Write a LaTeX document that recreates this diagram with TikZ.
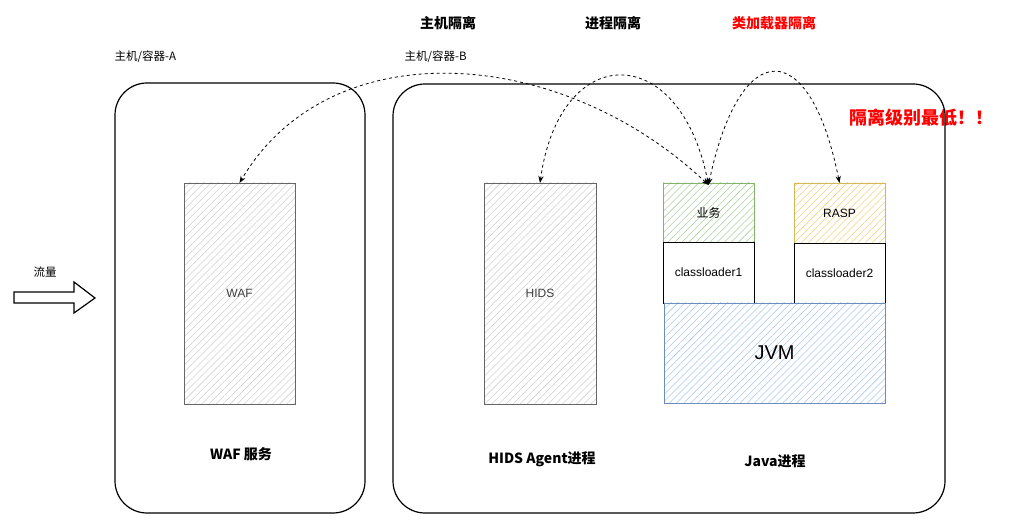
\documentclass[tikz,border=0pt]{standalone}
\usepackage{fontspec}
\setmainfont{Liberation Sans}
\newfontfamily\cjk{Noto Sans CJK SC}
\usetikzlibrary{arrows.meta,positioning,patterns.meta}
\definecolor{bizline}{HTML}{82B366}
\definecolor{bizfill}{HTML}{A9D09E}
\definecolor{rasline}{HTML}{D6B656}
\definecolor{rasfill}{HTML}{F2D27A}
\definecolor{jvmline}{HTML}{6C8EBF}
\definecolor{jvmfill}{HTML}{A9C6EE}
\definecolor{graybox}{HTML}{666666}
\definecolor{grayfill}{HTML}{D0D0D0}

\begin{document}
\begin{tikzpicture}[x=1pt,y=-1pt] % pixel grid, y grows downwards
\tikzset{host/.style={draw, line width=1.2pt, rounded corners=32pt}} % host or container
\tikzset{hatched/.style 2 args={draw=#1, line width=0.9pt, pattern={Lines[angle=45,distance=5pt,line width=0.55pt]}, pattern color=#2, inner sep=0pt, outer sep=0pt}}
\tikzset{plainbox/.style={draw, line width=0.9pt, inner sep=0pt, outer sep=0pt, minimum width=91pt}}
\tikzset{title/.style={font=\cjk\bfseries\fontsize{14}{16}\selectfont}} % headings
\tikzset{small/.style={font=\fontsize{12}{14}\selectfont}}
\tikzset{jump/.style={dashed, line width=0.8pt, {Stealth[length=7pt]}-{Stealth[length=7pt]}}}
\useasboundingbox (0,0) rectangle (1023,521);

% headings
\node[title] (hostiso) at (448,23) {主机隔离};
\node[title] (prociso) at (613,23) {进程隔离};
\node[title, text=red] (cliso) at (774,23) {类加载器隔离};
\node[font=\cjk\bfseries\fontsize{18}{20}\selectfont, text=red] (lowest) at (921,118) {隔离级别最低！！};

% hosts
\draw[host] (115,83) rectangle (365,513);
\draw[host] (393,84) rectangle (945,513);
\node[font=\cjk\fontsize{11.5}{13}\selectfont, anchor=west] (hosta) at (111,57) {主机/容器-A};
\node[font=\cjk\fontsize{11.5}{13}\selectfont, anchor=west] (hostb) at (401,57) {主机/容器-B};

% traffic
\node[font=\cjk\fontsize{11.5}{13}\selectfont] (flow) at (45,272) {流量};
\draw[line width=1.2pt] (14,292) -- (74,292) -- (74,282) -- (95,298) -- (74,313) -- (74,303) -- (14,303) -- cycle;

% processes
\node[hatched={graybox}{grayfill}, minimum width=111pt, minimum height=221pt, text=black!75, small] (waf) at (239.5,293.5) {WAF};
\node[hatched={graybox}{grayfill}, minimum width=112pt, minimum height=221pt, text=black!75, small] (hids) at (540,293.5) {HIDS};
\node[hatched={bizline}{bizfill}, minimum width=91pt, minimum height=59pt, font=\cjk\fontsize{12}{14}\selectfont] (biz) at (708.5,212.5) {业务};
\node[plainbox, minimum height=61pt, below=0pt of biz, small] (cla) {classloader1};
\node[hatched={rasline}{rasfill}, minimum width=91pt, minimum height=60pt, small] (rasp) at (839.5,213) {RASP};
\node[plainbox, minimum height=60pt, below=0pt of rasp, small] (clb) {classloader2};
\node[hatched={jvmline}{jvmfill}, minimum width=221pt, minimum height=100pt, font=\fontsize{20}{22}\selectfont] (jvm) at (774.5,353) {JVM};

% captions
\node[title] (wafsvc) at (241,454) {WAF 服务};
\node[title] (hidsproc) at (542,459) {HIDS Agent进程};
\node[title] (javaproc) at (775,461) {Java进程};

% isolation jumps
\coordinate (bizin) at ([yshift=-2pt]biz.north);
\draw[jump] (bizin) .. controls (560,45) and (330,30) .. (waf.north);
\draw[jump] (bizin) .. controls (680,40) and (560,40) .. (hids.north);
\draw[jump] (bizin) .. controls (740,35) and (810,35) .. (rasp.north);
\end{tikzpicture}
\end{document}
